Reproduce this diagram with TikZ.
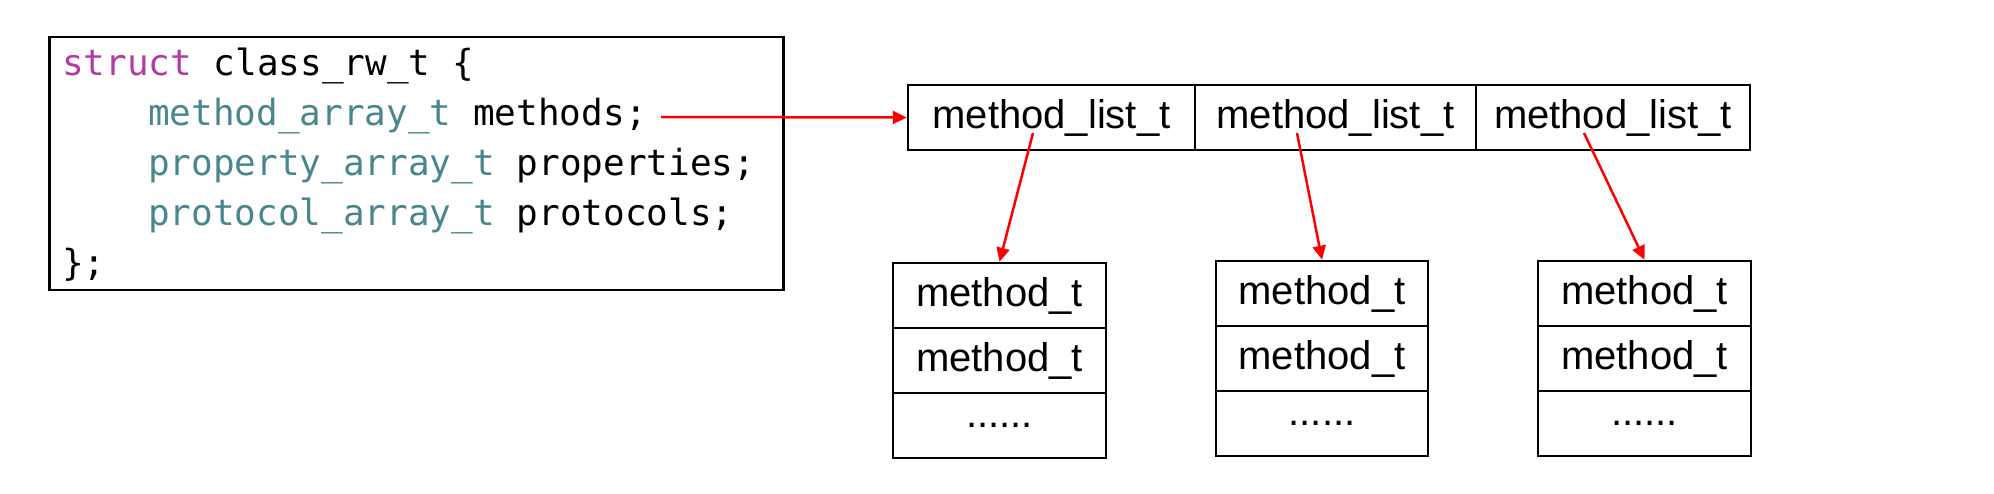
\documentclass[tikz,border=0pt]{standalone}
\usepackage{fontspec}
\newfontfamily\monof{DejaVu Sans Mono}
\newfontfamily\arialf{Liberation Sans}
\usetikzlibrary{arrows.meta}
\definecolor{kw}{HTML}{B13CA4}
\definecolor{ty}{HTML}{4A878D}
\definecolor{arrred}{HTML}{FF0000}
\begin{document}
\begin{tikzpicture}[x=1pt,y=-1pt,
  codeline/.style={anchor=base west, inner sep=0pt, font=\monof\fontsize{36}{43}\selectfont},
  codebox/.style={draw, line width=2.5pt, inner sep=0pt, anchor=north west},
  cell/.style={draw, line width=2.5pt, minimum height=65pt, inner sep=0pt, font=\arialf\fontsize{40}{48}\selectfont},
  redarr/.style={draw=arrred, line width=2.5pt, -{Triangle[length=14pt,width=13pt]}},
]
\useasboundingbox (0,0) rectangle (1994,494);

% code box
\node[codebox, minimum width=734pt, minimum height=253pt] (code) at (48,36) {};
\node[codeline] (l1) at (62,76) {\textcolor{kw}{struct} class\_rw\_t \{};
\node[codeline] (l2) at (148,126) {\textcolor{ty}{method\_array\_t} methods;};
\node[codeline] (l3) at (148,176) {\textcolor{ty}{property\_array\_t} properties;};
\node[codeline] (l4) at (148,226) {\textcolor{ty}{protocol\_array\_t} protocols;};
\node[codeline] (l5) at (62,276) {\};};

% method_list_t row
\node[cell, minimum width=287pt] (ml1) at (1051.5,117.5) {method\_list\_t};
\node[cell, minimum width=281pt] (ml2) at (1335.5,117.5) {method\_list\_t};
\node[cell, minimum width=274pt] (ml3) at (1613,117.5) {method\_list\_t};

% method_t boxes
\node[cell, minimum width=213pt] (b1a) at (999.5,295.5) {method\_t};
\node[cell, minimum width=213pt] (b1b) at (999.5,360.5) {method\_t};
\node[cell, minimum width=213pt] (b1c) at (999.5,425.5) {......};

\node[cell, minimum width=212pt] (b2a) at (1322,293.5) {method\_t};
\node[cell, minimum width=212pt] (b2b) at (1322,358.5) {method\_t};
\node[cell, minimum width=212pt] (b2c) at (1322,423.5) {......};

\node[cell, minimum width=213pt] (b3a) at (1644.5,293.5) {method\_t};
\node[cell, minimum width=213pt] (b3b) at (1644.5,358.5) {method\_t};
\node[cell, minimum width=213pt] (b3c) at (1644.5,423.5) {......};

% connectors
\coordinate (a0) at (661,117);
\draw[redarr] (a0) -- (ml1.west);
\draw[redarr] ([shift={(-18.5,15.5)}]ml1.center) -- (b1a.north);
\draw[redarr] ([shift={(-38.5,15.5)}]ml2.center) -- (b2a.north);
\draw[redarr] ([shift={(-29,15.5)}]ml3.center) -- (b3a.north);
\end{tikzpicture}
\end{document}
